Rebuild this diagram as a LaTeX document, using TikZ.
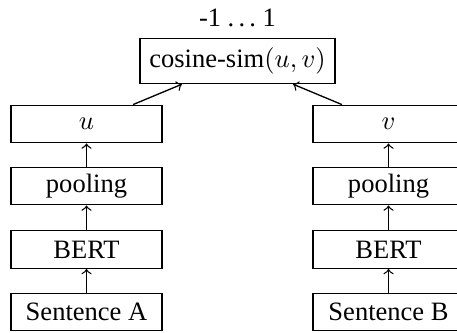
\documentclass[tikz,border=0pt]{standalone}
\usepackage{fontspec}
\setmainfont{Liberation Serif}
\begin{document}
\begin{tikzpicture}[x=0.377pt,y=-0.377pt,
  box/.style={draw,line width=0.5pt,minimum width=151*0.377pt,minimum height=37.5*0.377pt,inner sep=0pt,font=\fontsize{10}{12}\selectfont},
  topbox/.style={draw,line width=0.5pt,minimum height=40*0.377pt,inner sep=0.35em,font=\fontsize{10}{12}\selectfont},
  arr/.style={->,line width=0.5pt}]
\useasboundingbox (0,0) rectangle (457,332);
\clip (0,0) rectangle (457,332);
\node[font=\fontsize{10}{12}\selectfont] (range) at (237.5,18) {-1 .\kern.16em.\kern.16em.\ 1};
\node[topbox] (cos) at (237.5,61) {cosine-sim$(u,v)$};
\node[box] (u) at (86.5,124) {$u$};
\node[box] (pa) at (86.5,186) {pooling};
\node[box] (ba) at (86.5,249.5) {BERT};
\node[box] (sa) at (86.5,312) {Sentence A};
\node[box] (v) at (388.5,124) {$v$};
\node[box] (pb) at (388.5,186) {pooling};
\node[box] (bb) at (388.5,249.5) {BERT};
\node[box] (sb) at (388.5,312) {Sentence B};
\draw[arr] (sa) -- (ba);
\draw[arr] (ba) -- (pa);
\draw[arr] (pa) -- (u);
\draw[arr] (sb) -- (bb);
\draw[arr] (bb) -- (pb);
\draw[arr] (pb) -- (v);
\draw[arr] (u) -- (cos);
\draw[arr] (v) -- (cos);
\end{tikzpicture}
\end{document}
